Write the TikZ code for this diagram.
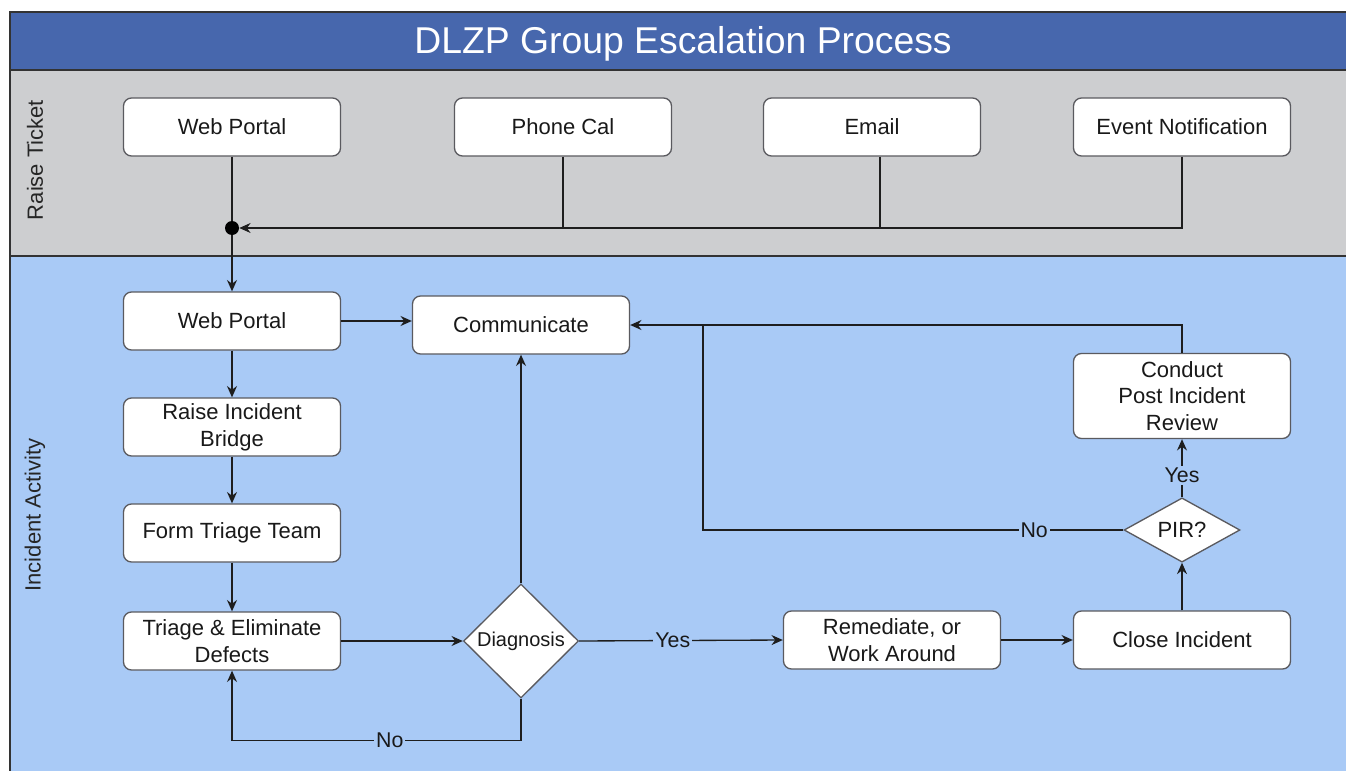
\documentclass[tikz,border=0pt]{standalone}
\usepackage{fontspec}
\setmainfont{Liberation Sans}
\usetikzlibrary{shapes.geometric,arrows.meta}
\definecolor{titleblue}{HTML}{4767AD}
\definecolor{lanegray}{HTML}{CDCED0}
\definecolor{laneblue}{HTML}{A9CAF6}
\definecolor{boxborder}{HTML}{5A5A5F}
\definecolor{linecol}{HTML}{1E1E1E}
\begin{document}
\begin{tikzpicture}[x=0.75pt,y=-0.75pt,
  box/.style={draw=boxborder, line width=1pt, fill=white, rounded corners=6pt,
    minimum width=162.75pt, minimum height=43.5pt, align=center,
    font=\fontsize{16.5}{20}\selectfont, inner sep=1pt, text=black!90},
  dia/.style={draw=boxborder, line width=1pt, fill=white, diamond, inner sep=0pt,
    align=center, text=black!90},
  lab/.style={fill=laneblue, inner sep=1.5pt, font=\fontsize{16}{19}\selectfont, text=black!90},
  conn/.style={draw=linecol, line width=1pt},
  arr/.style={conn, -{Stealth[length=8.5pt,width=7.5pt,inset=2.8pt]}},
  lanelab/.style={rotate=90, font=\fontsize{16.5}{20}\selectfont, text=black!85}]
\useasboundingbox (0,0) rectangle (1346,771);
\clip (0,0) rectangle (1346,771);
\fill[white] (0,0) rectangle (1346,771);
% lanes
\draw[fill=titleblue, draw=black!80, line width=1.1pt] (10,12) rectangle (1370,70);
\draw[fill=lanegray, draw=black!80, line width=1.1pt] (10,70) rectangle (1370,256);
\draw[fill=laneblue, draw=black!80, line width=1.1pt] (10,256) rectangle (1370,800);
\node[text=white, font=\fontsize{28}{32}\selectfont] (title) at (683,44) {DLZP Group Escalation Process};
\node[lanelab] (lane1) at (35,160) {Raise Ticket};
\node[lanelab] (lane2) at (35,515) {Incident Activity};
% raise ticket
\node[box] (wp1) at (232,127) {Web Portal};
\node[box] (ph) at (563,127) {Phone Cal};
\node[box] (em) at (872,127) {Email};
\node[box] (ev) at (1182,127) {Event Notification};
\node[circle, fill=black, inner sep=0pt, minimum size=10.5pt] (dot) at (232,228) {};
\draw[conn] (wp1.south) -- (dot);
\draw[conn] (ph.south) -- (ph.south |- dot);
\draw[conn] ([xshift=6pt]em.south) -- ([xshift=6pt]em.south |- dot);
\draw[arr] (ev.south) |- (dot.east);
% incident activity
\node[box] (wp2) at (232,321) {Web Portal};
\node[box] (comm) at (521,325) {Communicate};
\node[box] (rib) at (232,427) {Raise Incident\\Bridge};
\node[box] (ftt) at (232,533) {Form Triage Team};
\node[box] (ted) at (232,641) {Triage \& Eliminate\\Defects};
\node[dia, minimum width=86.25pt, minimum height=85.5pt, font=\fontsize{15}{18}\selectfont] (diag) at (521,641) {Diagnosis};
\node[box] (rem) at (892,640) {Remediate, or\\Work Around};
\node[box] (close) at (1182,640) {Close Incident};
\node[dia, minimum width=87pt, minimum height=42pt, font=\fontsize{16.5}{20}\selectfont] (pir) at (1182,530) {PIR?};
\node[box, minimum height=63.75pt] (cpir) at (1182,396) {Conduct\\Post Incident\\Review};
\coordinate (nj) at (703,325);
\draw[arr] (dot) -- (wp2.north);
\draw[arr] (wp2.east) -- (comm.west |- wp2.east);
\draw[arr] (wp2) -- (rib);
\draw[arr] (rib) -- (ftt);
\draw[arr] (ftt) -- (ted);
\draw[arr] (ted.east) -- (diag.west);
\draw[arr] (diag.north) -- (comm.south);
\draw[arr] (diag.east) -- node[lab, pos=0.46] {Yes} (rem.west);
\draw[arr] (diag.south) -- ++(0,42) -| node[lab, pos=0.227] {No} (ted.south);
\draw[arr] (rem) -- (close);
\draw[arr] (close) -- (pir);
\draw[arr] (pir.north) -- node[lab, pos=0.38] {Yes} (cpir.south);
\draw[arr] (cpir.north) |- (comm.east);
\draw[conn] (pir.west) -| node[lab, pos=0.106] {No} (nj);
\end{tikzpicture}
\end{document}
